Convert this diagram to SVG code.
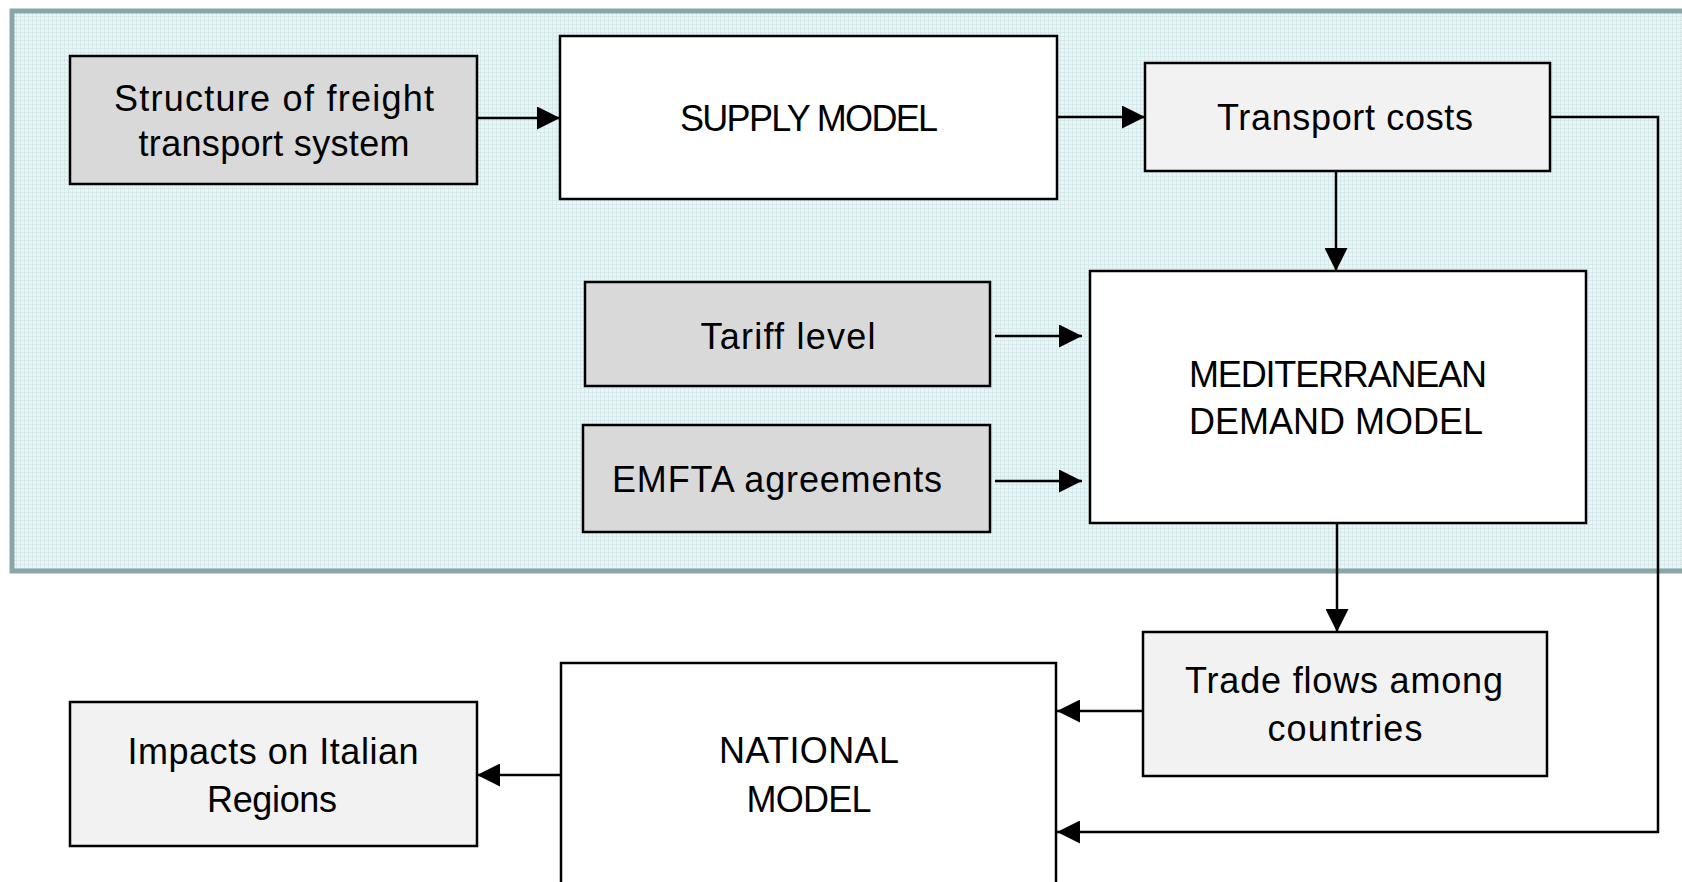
<svg xmlns="http://www.w3.org/2000/svg" width="1682" height="882" viewBox="0 0 1682 882">
<defs>
<pattern id="grid" width="4" height="4" patternUnits="userSpaceOnUse">
<rect width="4" height="4" fill="#e9f5f6"/>
<path d="M0,0.5 H4 M0.5,0 V4" stroke="#d6eaec" stroke-width="1"/>
</pattern>
<marker id="arr" markerUnits="userSpaceOnUse" markerWidth="23" markerHeight="23" refX="23" refY="11.5" orient="auto">
<path d="M0,0 L23,11.5 L0,23 z" fill="#000"/>
</marker>
<style>
.box{stroke:#000;stroke-width:2.5}
.dark{fill:#d9d9d9}
.light{fill:#f2f2f2}
.white{fill:#fff}
.t{font-family:"Liberation Sans",Arial,sans-serif;font-size:36px;fill:#000;text-anchor:middle}
.c{fill:none;stroke:#000;stroke-width:2.5}
</style>
</defs>
<rect x="12" y="11" width="1700" height="560" fill="url(#grid)" stroke="#8ba6a8" stroke-width="5"/>
<g id="connectors">
<path class="c" d="M477,118 H560" marker-end="url(#arr)"/>
<path class="c" d="M1057,117 H1145" marker-end="url(#arr)"/>
<path class="c" d="M1336,171 V271" marker-end="url(#arr)"/>
<path class="c" d="M995,336 H1082" marker-end="url(#arr)"/>
<path class="c" d="M995,481 H1082" marker-end="url(#arr)"/>
<path class="c" d="M1337,523 V632" marker-end="url(#arr)"/>
<path class="c" d="M1143,711 H1057" marker-end="url(#arr)"/>
<path class="c" d="M1550,117 H1658 V832 H1057" marker-end="url(#arr)"/>
<path class="c" d="M561,775 H477" marker-end="url(#arr)"/>
</g>
<g id="structure">
<rect class="box dark" x="70" y="56" width="407" height="128"/>
<text class="t" x="274" y="111" textLength="320">Structure of freight</text>
<text class="t" x="274" y="156" textLength="271">transport system</text>
</g>
<g id="supply">
<rect class="box white" x="560" y="36" width="497" height="163"/>
<text class="t" x="809" y="131" textLength="258">SUPPLY MODEL</text>
</g>
<g id="transport">
<rect class="box light" x="1145" y="63" width="405" height="108"/>
<text class="t" x="1345" y="130" textLength="256">Transport costs</text>
</g>
<g id="tariff">
<rect class="box dark" x="585" y="282" width="405" height="104"/>
<text class="t" x="788" y="349" textLength="175">Tariff level</text>
</g>
<g id="emfta">
<rect class="box dark" x="583" y="425" width="407" height="107"/>
<text class="t" x="777" y="492" textLength="330">EMFTA agreements</text>
</g>
<g id="mediterranean">
<rect class="box white" x="1090" y="271" width="496" height="252"/>
<text class="t" x="1338" y="387" textLength="298">MEDITERRANEAN</text>
<text class="t" x="1336" y="434" textLength="294">DEMAND MODEL</text>
</g>
<g id="trade">
<rect class="box light" x="1143" y="632" width="404" height="144"/>
<text class="t" x="1344" y="693" textLength="318">Trade flows among</text>
<text class="t" x="1345" y="741" textLength="155">countries</text>
</g>
<g id="national">
<rect class="box white" x="561" y="663" width="495" height="240"/>
<text class="t" x="809" y="763" textLength="180">NATIONAL</text>
<text class="t" x="809" y="812" textLength="125">MODEL</text>
</g>
<g id="impacts">
<rect class="box light" x="70" y="702" width="407" height="144"/>
<text class="t" x="273" y="764" textLength="291">Impacts on Italian</text>
<text class="t" x="272" y="812" textLength="130">Regions</text>
</g>
</svg>
